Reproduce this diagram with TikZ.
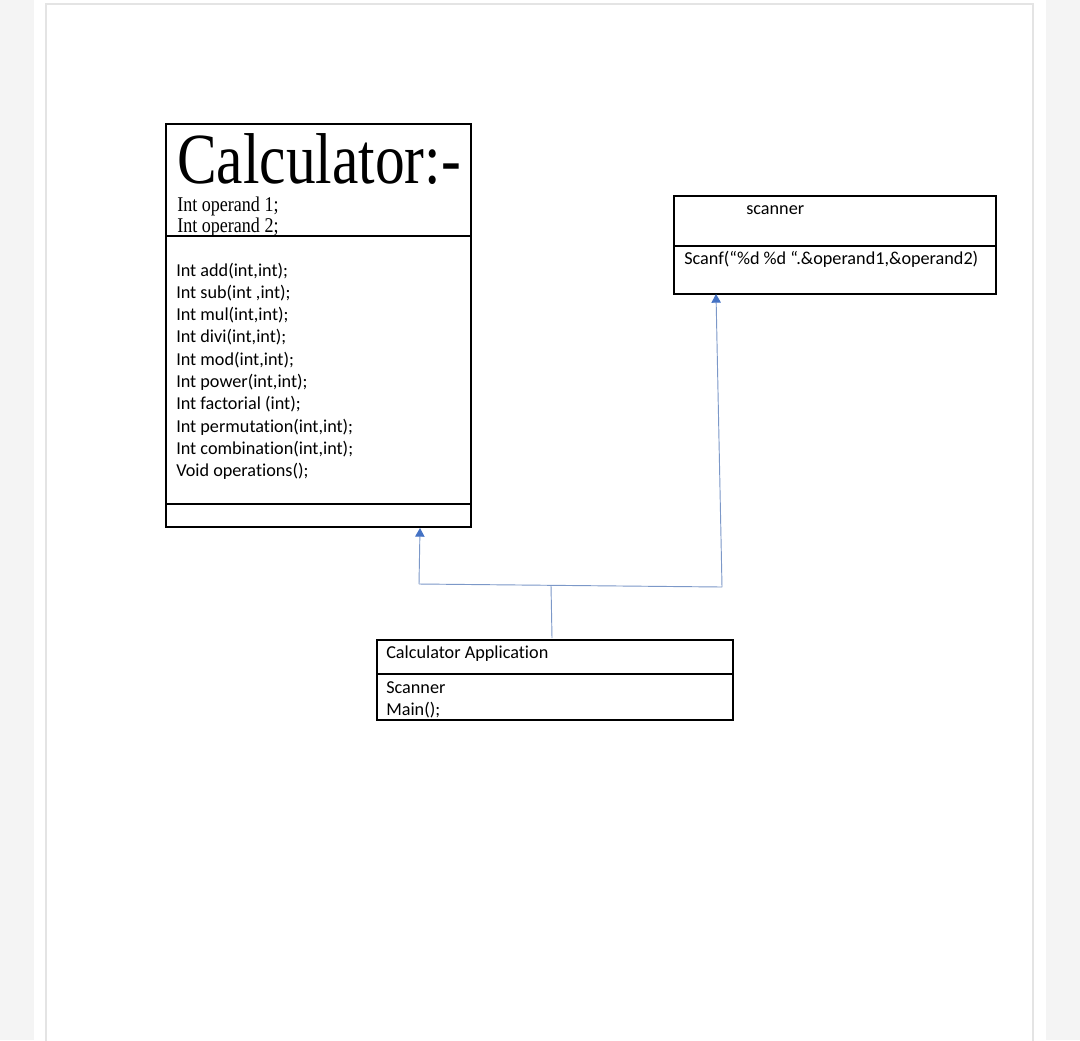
\documentclass[tikz,border=0pt]{standalone}
\usepackage{fontspec}
\setmainfont[RawFeature=-liga]{Carlito}
\newfontfamily\serifface{Liberation Serif}
\usetikzlibrary{arrows.meta}
\definecolor{pagegray}{HTML}{F4F4F4}
\definecolor{edgegray}{HTML}{E4E4E4}
\definecolor{linkblue}{HTML}{7C98C8}
\definecolor{tipblue}{HTML}{4472C4}
\tikzset{
  umlbox/.style={draw=black, line width=0.8pt},
  txt/.style={inner sep=0pt, anchor=base west, font=\fontsize{13.65}{16}\selectfont},
  link/.style={draw=linkblue, line width=0.7pt},
  arrowlink/.style={link, -{Triangle[length=6.5pt, width=7pt, color=tipblue]}},
}
\begin{document}
\begin{tikzpicture}[x=0.75pt, y=-0.75pt]
\useasboundingbox (0,0) rectangle (1080,1040);
% page background
\fill[pagegray] (0,0) rectangle (1080,1040);
\fill[white!98!pagegray] (34,0) rectangle (1046,1040);
\fill[white] (46,4) rectangle (1033,1045);
\draw[edgegray, line width=0.8pt] (46,1045) -- (46,4) -- (1033,4) -- (1033,1045);

% Calculator class
\draw[umlbox] (166,124) rectangle (471,527);
\draw[umlbox] (166,236) -- (471,236);
\draw[umlbox] (166,504) -- (471,504);
\node[inner sep=0pt, anchor=base west, text depth=0pt] (ctitle) at (177,183)
  {\scalebox{0.825}[1]{\serifface\fontsize{54}{54}\selectfont Calculator:-}};
\node[inner sep=0pt, anchor=base west] (cop1) at (177,211)
  {\scalebox{0.86}[1]{\serifface\fontsize{15.75}{16}\selectfont Int operand 1;}};
\node[inner sep=0pt, anchor=base west] (cop2) at (177,232)
  {\scalebox{0.86}[1]{\serifface\fontsize{15.75}{16}\selectfont Int operand 2;}};
\foreach \t [count=\i from 0] in {
  {Int add(int,int);},
  {Int sub(int ,int);},
  {Int mul(int,int);},
  {Int divi(int,int);},
  {Int mod(int,int);},
  {Int power(int,int);},
  {Int factorial (int);},
  {Int permutation(int,int);},
  {Int combination(int,int);},
  {Void operations();}}
  \node[txt] (m\i) at (176,276+22.3*\i) {\t};
\coordinate (calcbottom) at (420,528);

% scanner class
\draw[umlbox] (674,196) rectangle (996,294);
\draw[umlbox] (674,246) -- (996,246);
\node[txt] (sname) at (746,214) {scanner};
\node[txt] (sop) at (684,264) {Scanf(“\%d \%d “.\&operand1,\&operand2)};
\coordinate (scanbottom) at (716,294);

% Calculator Application class
\draw[umlbox] (377,640) rectangle (733,720);
\draw[umlbox] (377,674) -- (733,674);
\node[txt] (aname) at (386,658) {Calculator Application};
\node[txt] (aattr) at (386,693) {Scanner};
\node[txt] (aop) at (386,715) {Main();};
\coordinate (apptop) at (552,638);

% connectors
\coordinate (jmid) at (551,585.5);
\coordinate (jleft) at (419,584);
\coordinate (jright) at (722,587);
\draw[link] (apptop) -- (jmid);
\draw[link] (jleft) -- (jright);
\draw[arrowlink] (jleft) -- (calcbottom);
\draw[arrowlink] (jright) -- (scanbottom);
\end{tikzpicture}
\end{document}
